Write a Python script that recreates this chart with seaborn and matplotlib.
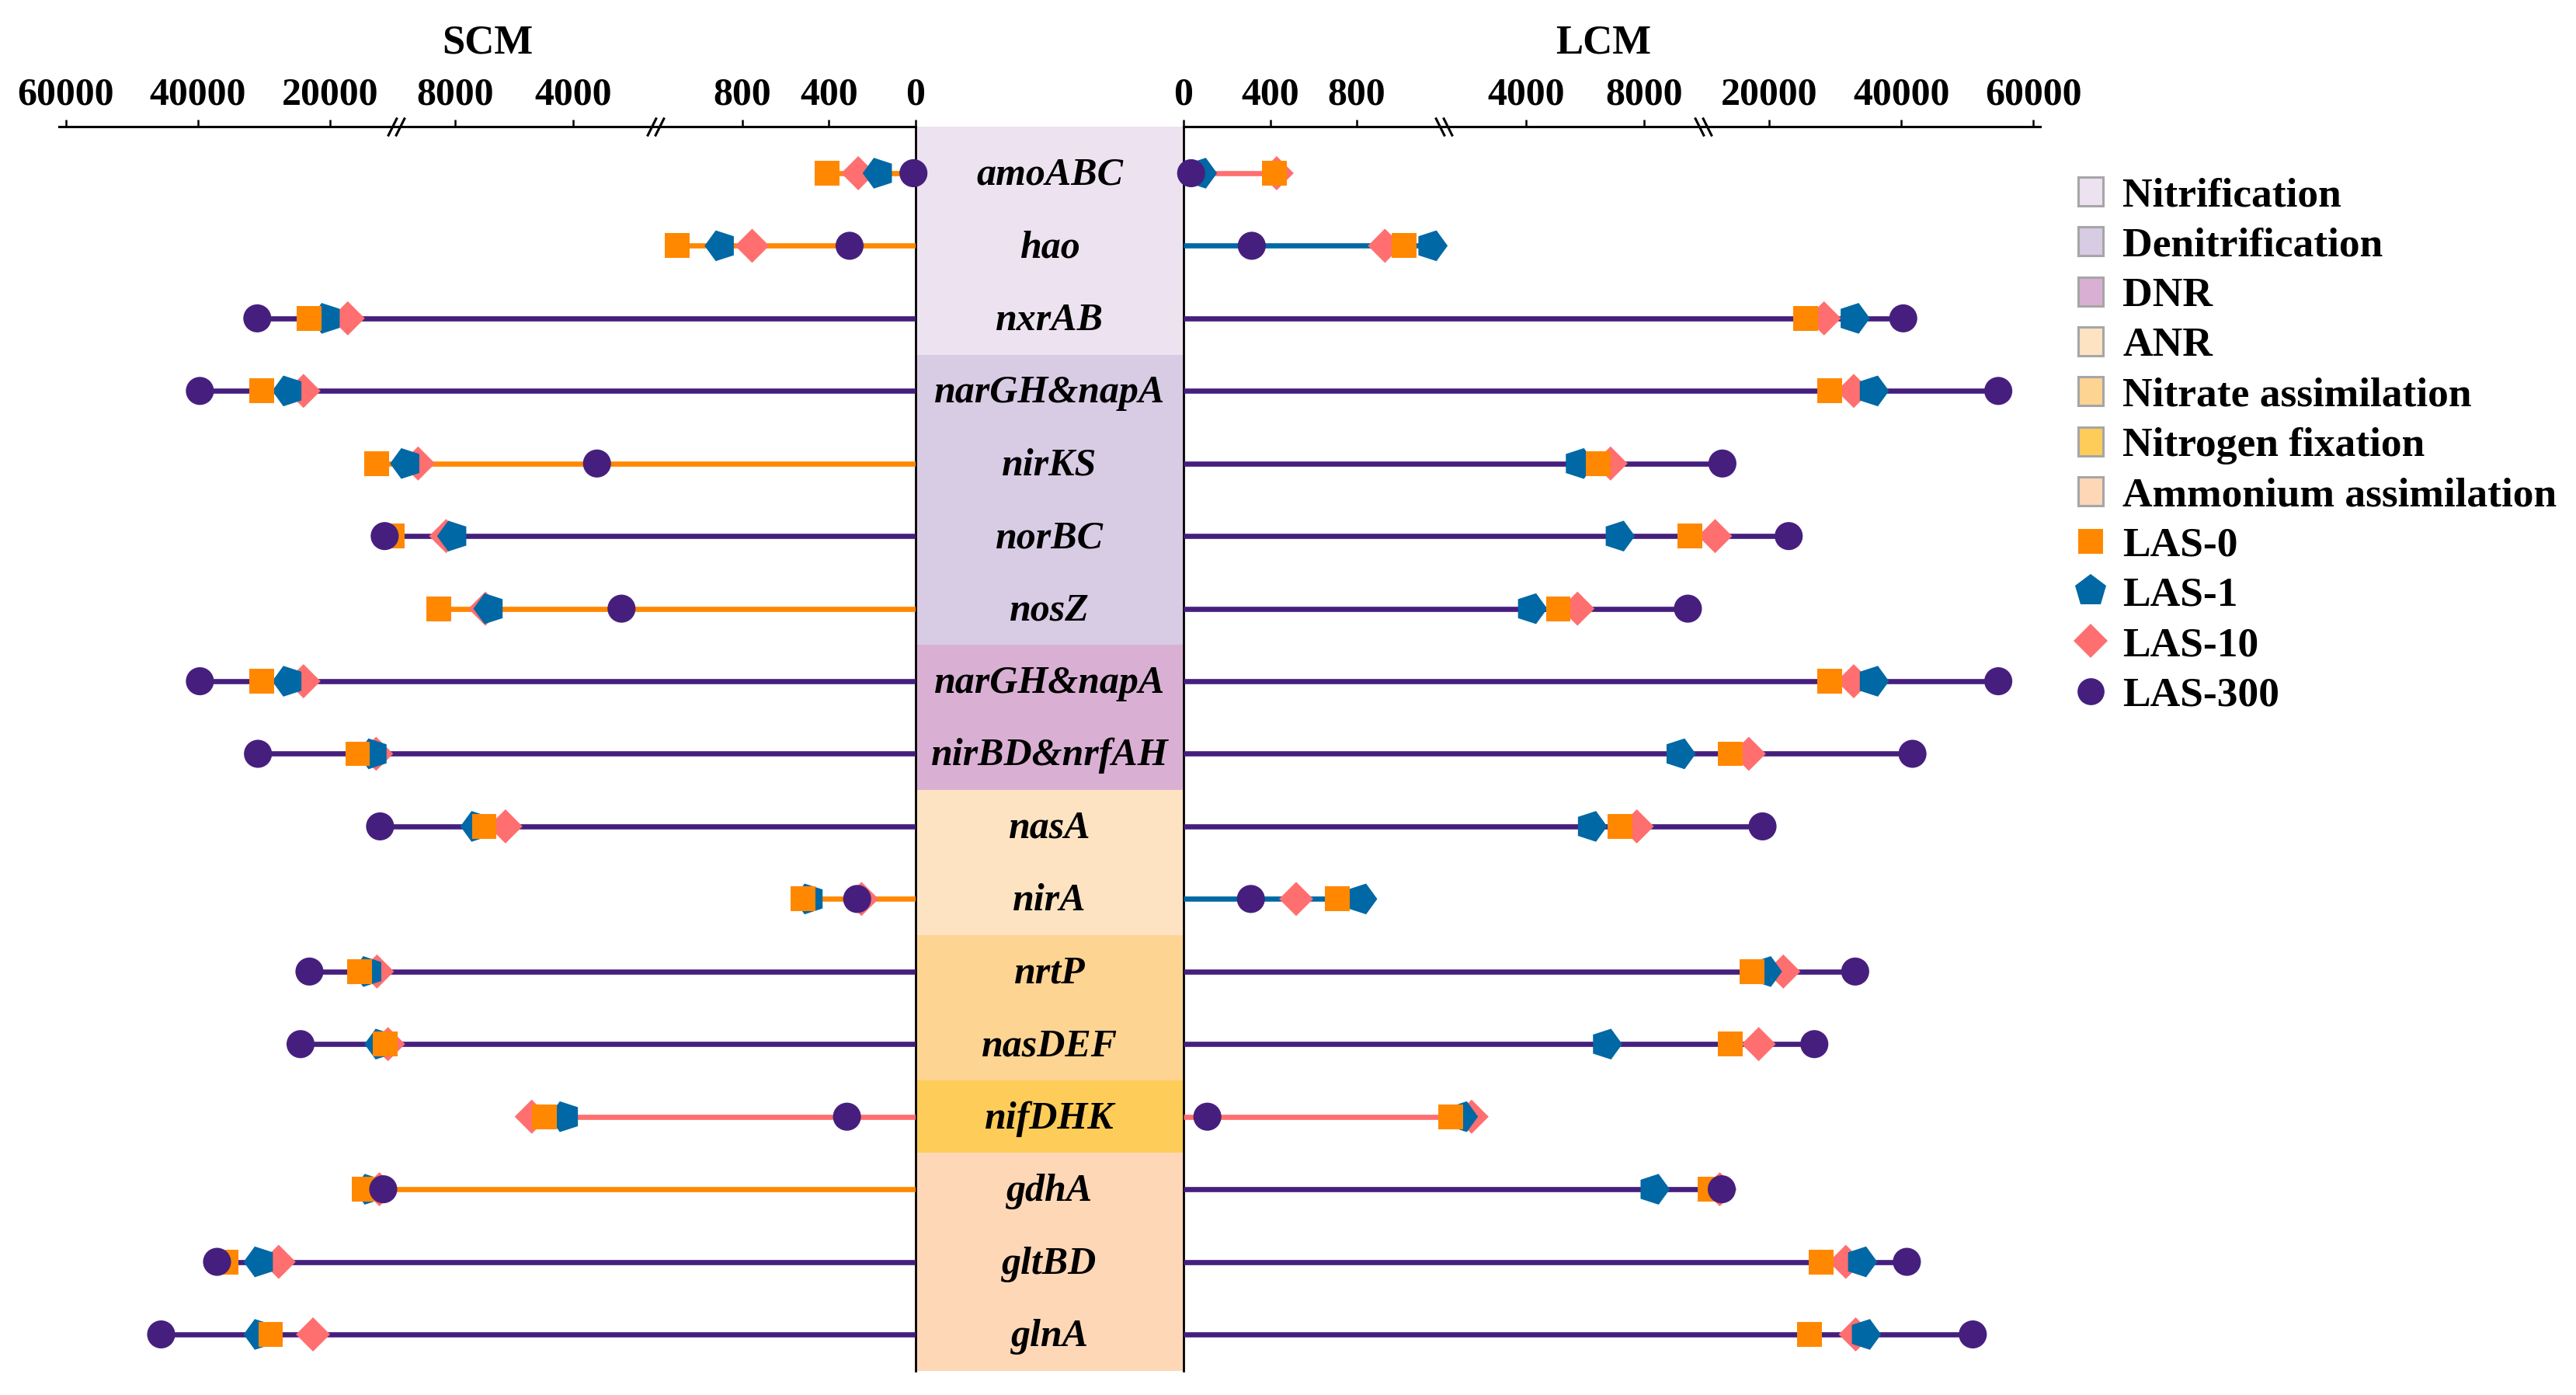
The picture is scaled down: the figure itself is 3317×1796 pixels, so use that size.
import numpy as np
import matplotlib
matplotlib.use('Agg')
import matplotlib.pyplot as plt
import seaborn as sns
from matplotlib.markers import MarkerStyle
from matplotlib.transforms import Affine2D
from matplotlib.patches import Patch
from matplotlib.lines import Line2D
from matplotlib.path import Path

# --- data ---
genes = ['amoABC', 'hao', 'nxrAB', 'narGH&napA', 'nirKS', 'norBC', 'nosZ',
         'narGH&napA', 'nirBD&nrfAH', 'nasA', 'nirA', 'nrtP', 'nasDEF',
         'nifDHK', 'gdhA', 'gltBD', 'glnA']
pathway = ['Nitrification', 'Nitrification', 'Nitrification',
           'Denitrification', 'Denitrification', 'Denitrification', 'Denitrification',
           'DNR', 'DNR', 'ANR', 'ANR',
           'Nitrate assimilation', 'Nitrate assimilation',
           'Nitrogen fixation',
           'Ammonium assimilation', 'Ammonium assimilation', 'Ammonium assimilation']

pathways = ['Nitrification', 'Denitrification', 'DNR', 'ANR',
            'Nitrate assimilation', 'Nitrogen fixation', 'Ammonium assimilation']
pathway_colors = ['#EDE2F0', '#D8CBE4', '#D9B0D3', '#FEE3C3',
                  '#FDD492', '#FECC58', '#FED7B7']

treatments = ['LAS-0', 'LAS-1', 'LAS-10', 'LAS-300']
treat_colors = ['#FF8800', '#0068A5', '#FF6F6F', '#461F7E']

# SCM (left side)
scm_las0 = [410, 1100, 23100, 30300, 12950, 10550, 8560, 30300, 15800, 7010,
            520, 15470, 11600, 4980, 14800, 35800, 28980]
scm_las1 = [170, 900, 20500, 26300, 9650, 8060, 6830, 26300, 13400, 7270,
            490, 14200, 12320, 4280, 13980, 30630, 30630]
scm_las10 = [265, 755, 17300, 24000, 9250, 8300, 6970, 24000, 13000, 6290,
             250, 12870, 11200, 5400, 12500, 27760, 22560]
scm_las300 = [10, 305, 31000, 39700, 3190, 11700, 2360, 39700, 30900, 12400,
              270, 23100, 24450, 317, 11920, 37100, 45570]

# LCM (right side)
lcm_las0 = [420, 1020, 25500, 29100, 6440, 9540, 5090, 29100, 14040, 7175,
            710, 17400, 14040, 1455, 10980, 27890, 26080]
lcm_las1 = [80, 1145, 32800, 35700, 5790, 7140, 4170, 35700, 9200, 6200,
            820, 19490, 6710, 1825, 8320, 33920, 34500]
lcm_las10 = [430, 930, 28300, 32800, 6860, 11800, 5740, 32800, 16900, 7750,
             520, 22130, 18400, 2155, 12500, 31600, 33100]
lcm_las300 = [35, 315, 40300, 54700, 12900, 22950, 9480, 54700, 41700, 18980,
              311, 33020, 26830, 110, 12800, 40850, 50840]

ticks = [0, 400, 800, 4000, 8000, 20000, 40000, 60000]
axis_breaks = [1200, 10000]

# broken axis: three linear pieces
SEG_VALUES = [0, 1200, 10000, 70000]
SEG_POS = [0, 1, 2, 3.524]


def fwd(v):
    return np.interp(v, SEG_VALUES, SEG_POS)


def inv(t):
    return np.interp(t, SEG_POS, SEG_VALUES)


sns.set_theme(style='white', rc={'text.color': 'black', 'axes.edgecolor': 'black',
                                 'xtick.color': 'black'})
plt.rcParams['font.family'] = ['Liberation Serif', 'DejaVu Serif']

W, H = 3317, 1796
SEG_PX = 334.6
XMAX = 61000
panel_px = fwd(XMAX) * SEG_PX
zero_left, zero_right = 1179, 1524
bottom = 1 - 1765 / H
height = (1765 - 163) / H

fig = plt.figure(figsize=(W / 100, H / 100), dpi=100)
ax_mid = fig.add_axes([zero_left / W, bottom, (zero_right - zero_left) / W, height])
ax_l = fig.add_axes([(zero_left - panel_px) / W, bottom, panel_px / W, height])
ax_r = fig.add_axes([zero_right / W, bottom, panel_px / W, height])

rows = np.arange(len(genes))
YLIM = (16.503, -0.642)

# --- centre band with gene names ---
for p, c in zip(pathways, pathway_colors):
    idx = [i for i, g in enumerate(pathway) if g == p]
    lo = min(idx) - 0.5 if min(idx) > 0 else -1
    ax_mid.axhspan(lo, max(idx) + 0.5, color=c, lw=0)
for i, g in enumerate(genes):
    ax_mid.text(0.5, i + 0.16, g, ha='center', va='baseline', fontsize=36,
                fontweight='bold', fontstyle='italic')
ax_mid.set_xlim(0, 1)
ax_mid.set_ylim(*YLIM)
ax_mid.set_xticks([])
ax_mid.set_yticks([])
for s in ['top', 'bottom']:
    ax_mid.spines[s].set_visible(False)
for s in ['left', 'right']:
    ax_mid.spines[s].set_linewidth(2.0)
    ax_mid.spines[s].set_color('black')


def draw_side(ax, series, side):
    vals = np.array(series, dtype=float)
    longest = vals.argmax(axis=0)
    for i in rows:
        k = longest[i]
        ax.hlines(i, 0, vals[k, i], color=treat_colors[k], lw=4.8, zorder=1)

    rot = 90 if side == 'left' else -90
    pent = MarkerStyle('p', transform=Affine2D().rotate_deg(rot))
    markers = ['s', pent, 'D', 'o']
    sizes = [23, 30, 22.4, 26]
    zorders = [4, 3, 2, 5]
    for k in range(4):
        sns.scatterplot(x=vals[k], y=rows, ax=ax, marker=markers[k], s=sizes[k] ** 2,
                        color=treat_colors[k], edgecolor='none', linewidth=0,
                        zorder=zorders[k], legend=False, clip_on=False)

    ax.set_xscale('function', functions=(fwd, inv))
    if side == 'left':
        ax.set_xlim(XMAX, 0)
    else:
        ax.set_xlim(0, XMAX)
    ax.set_ylim(*YLIM)
    ax.set_facecolor('none')
    ax.set_yticks([])
    ax.set_xlabel('')
    ax.set_ylabel('')
    ax.set_xticks(ticks, labels=[str(t) for t in ticks], fontsize=36, fontweight='bold')
    ax.minorticks_off()
    ax.tick_params(axis='x', top=True, labeltop=True, bottom=False, labelbottom=False,
                   direction='out', length=6.5, width=1.8, pad=6, colors='black')
    for s in ['left', 'right', 'bottom']:
        ax.spines[s].set_visible(False)
    ax.spines['top'].set_linewidth(2.2)
    ax.spines['top'].set_color('black')

    # break marks on the axis line
    if side == 'left':
        verts = [(-11, -12), (1, 12), (-1, -12), (11, 12)]
    else:
        verts = [(-11, 12), (1, -12), (-1, 12), (11, -12)]
    brk = Path(verts, [Path.MOVETO, Path.LINETO, Path.MOVETO, Path.LINETO])
    ax.plot(axis_breaks, [1, 1], transform=ax.get_xaxis_transform(), ls='none',
            marker=brk, ms=17.3, mew=2.2, mec='black', mfc='none', clip_on=False,
            zorder=10)


draw_side(ax_l, [scm_las0, scm_las1, scm_las10, scm_las300], 'left')
draw_side(ax_r, [lcm_las0, lcm_las1, lcm_las10, lcm_las300], 'right')

ax_l.text(0.5, 1.0587, 'SCM', transform=ax_l.transAxes, ha='center', va='baseline',
          fontsize=38, fontweight='bold')
ax_r.text(0.49, 1.0587, 'LCM', transform=ax_r.transAxes, ha='center', va='baseline',
          fontsize=38, fontweight='bold')

# --- legend ---
handles = [Patch(facecolor=c, edgecolor='#A6A6A6', linewidth=2.2) for c in pathway_colors]
leg_markers = ['s', 'p', 'D', 'o']
leg_sizes = [23, 31, 22.4, 25]
for m, ms, c in zip(leg_markers, leg_sizes, treat_colors):
    handles.append(Line2D([0], [0], marker=m, ls='none', ms=ms, color=c, mew=0))
labels = pathways + treatments
fig.legend(handles, labels, loc='upper left', bbox_to_anchor=(2676 / W, 1 - 228 / H),
           frameon=False, prop={'size': 38.5, 'weight': 'bold'}, borderpad=0,
           borderaxespad=0, handlelength=0.6, handleheight=0.69, handletextpad=0.47,
           labelspacing=0.30)

fig.savefig('out.png', dpi=100)
